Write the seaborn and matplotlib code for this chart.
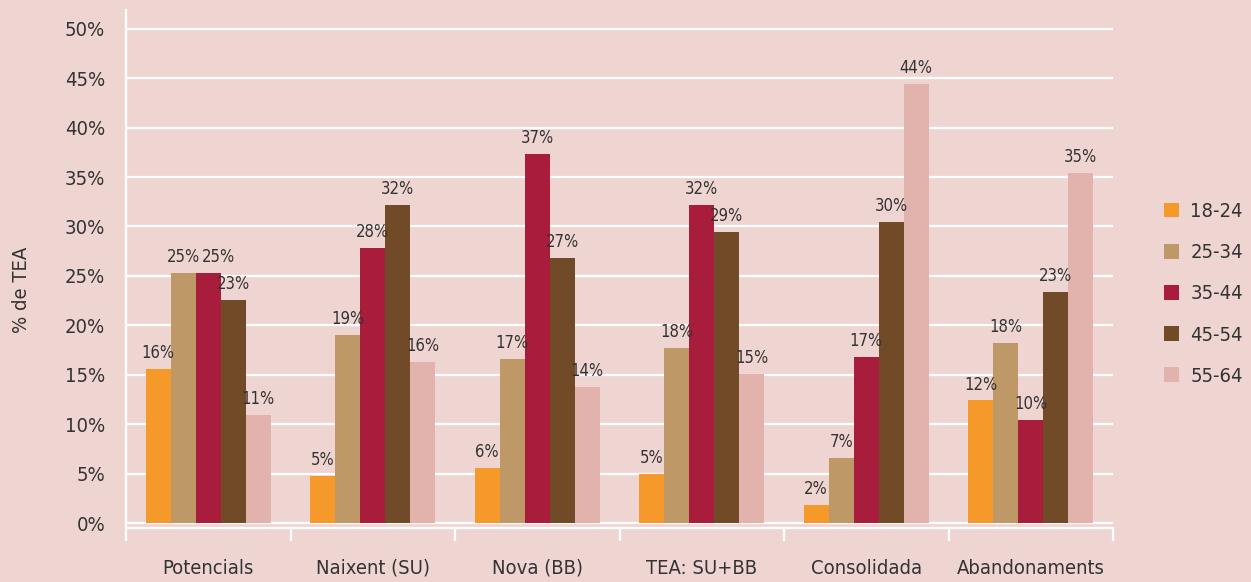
import matplotlib
matplotlib.use("Agg")
import matplotlib.pyplot as plt
import seaborn as sns
import pandas as pd
from matplotlib import font_manager

categories = ["Potencials", "Naixent (SU)", "Nova (BB)", "TEA: SU+BB", "Consolidada", "Abandonaments"]
age_groups = ["18-24", "25-34", "35-44", "45-54", "55-64"]
v_18_24 = [15.6, 4.8, 5.6, 5.0, 1.8, 12.4]
v_25_34 = [25.3, 19.0, 16.6, 17.7, 6.6, 18.2]
v_35_44 = [25.3, 27.8, 37.3, 32.2, 16.8, 10.4]
v_45_54 = [22.6, 32.2, 26.8, 29.4, 30.5, 23.4]
v_55_64 = [10.9, 16.3, 13.8, 15.1, 44.4, 35.4]
yticks = [0, 5, 10, 15, 20, 25, 30, 35, 40, 45, 50]

colors = ["#F5992B", "#BF9868", "#A81C3C", "#714A28", "#E2B3AC"]
bg = "#EFD5D1"
txt = "#333333"

series = [v_18_24, v_25_34, v_35_44, v_45_54, v_55_64]
rows = []
for g, vals in zip(age_groups, series):
    for c, v in zip(categories, vals):
        rows.append({"cat": c, "age": g, "val": v})
df = pd.DataFrame(rows)

sns.set_style("white")

# pick a condensed font if one is installed
cond = None
for f in font_manager.fontManager.ttflist:
    n = f.name
    st = str(f.stretch).lower()
    if ("narrow" in n.lower() or "condensed" in n.lower() or "condensed" in st) and "bold" not in str(f.weight):
        cond = (n, f.stretch)
        break
if cond is not None:
    plt.rcParams["font.family"] = [cond[0], "DejaVu Sans"]
    plt.rcParams["font.stretch"] = cond[1] if not isinstance(cond[1], str) or cond[1] else "normal"
    fs_tick, fs_bar, fs_leg = 14.5, 12, 14.5
else:
    plt.rcParams["font.family"] = ["Liberation Sans", "DejaVu Sans"]
    fs_tick, fs_bar, fs_leg = 14, 11.5, 14

fig = plt.figure(figsize=(12.51, 5.82), dpi=100, facecolor=bg)
ax = fig.add_axes([126/1251, 54/582, 987/1251, 518/582])
ax.set_facecolor(bg)

sns.barplot(data=df, x="cat", y="val", hue="age", order=categories, hue_order=age_groups,
            palette=dict(zip(age_groups, colors)), width=0.76, ax=ax, saturation=1,
            edgecolor="none", legend=True)

ax.set_ylim(-0.5, 51.9)
ax.set_xlim(-0.5, 5.5)
ax.set_yticks(yticks)
ax.set_yticklabels([f"{t}%" for t in yticks])
ax.grid(axis="y", color="white", linewidth=1.6)
ax.set_axisbelow(True)
for s in ["top", "right"]:
    ax.spines[s].set_visible(False)
ax.spines["left"].set_color("white")
ax.spines["left"].set_linewidth(1.6)
ax.spines["bottom"].set_color("white")
ax.spines["bottom"].set_linewidth(1.6)
ax.tick_params(axis="y", length=0, pad=15, labelsize=fs_tick, labelcolor=txt)
ax.tick_params(axis="x", length=0, pad=22, labelsize=fs_tick, labelcolor=txt)

# category separators
xt = ax.get_xaxis_transform()
for b in [-0.5, 0.5, 1.5, 2.5, 3.5, 4.5, 5.5]:
    ax.plot([b, b], [0, -13/518], transform=xt, color="white", lw=1.6, clip_on=False,
            solid_capstyle="butt")

all_labels = []
for cont, vals in zip(ax.containers, series):
    all_labels.append(ax.bar_label(cont, labels=[f"{v:.0f}%" for v in vals], padding=5,
                                   fontsize=fs_bar, color=txt))

# nudge neighbouring labels apart when they collide (per category)
fig.canvas.draw()
r = fig.canvas.get_renderer()
for ci in range(len(categories)):
    prev = None
    for si in range(len(age_groups)):
        ann = all_labels[si][ci]
        if prev is not None:
            b0 = prev.get_window_extent(r)
            b1 = ann.get_window_extent(r)
            if b1.y0 < b0.y1 and b1.y1 > b0.y0 and b1.x0 < b0.x1 + 2:
                shift = (b0.x1 + 2 - b1.x0) * 72 / fig.dpi
                dx, dy = ann.xyann
                ann.xyann = (dx + shift, dy)
                fig.canvas.draw()
        prev = ann

ax.set_xlabel("")
ax.set_ylabel("% de TEA", fontsize=fs_tick, color=txt)
ax.yaxis.set_label_coords(-0.096, 0.46)

h, l = ax.get_legend_handles_labels()
ax.legend(h, l, loc="center left", bbox_to_anchor=(1146/1251, 0.495), bbox_transform=fig.transFigure,
          frameon=False, fontsize=fs_leg, handlelength=0.75, handleheight=0.75, labelspacing=1.1,
          handletextpad=0.55, labelcolor=txt)

fig.savefig("out.png", dpi=100, facecolor=bg)
